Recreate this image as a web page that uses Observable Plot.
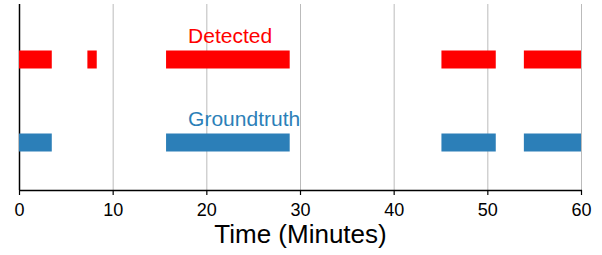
<!DOCTYPE html>
<html>
<head>
<meta charset="utf-8">
<script src="https://cdn.jsdelivr.net/npm/d3@7"></script>
<script src="https://cdn.jsdelivr.net/npm/@observablehq/plot@0.6"></script>
<style>
  html, body { margin: 0; padding: 0; background: #fff; }
</style>
</head>
<body>
<div id="chart"></div>
<script>
const rows = ["Detected", "Groundtruth"];
const rowColors = ["#ff0000", "#2c7fb8"];
const detectedStart = [0, 7.3, 15.7, 45.1, 53.9];
const detectedEnd   = [3.5, 8.3, 28.9, 50.9, 60];
const groundStart   = [0, 15.7, 45.1, 53.9];
const groundEnd     = [3.5, 28.9, 50.9, 60];
const xTicks = [0, 10, 20, 30, 40, 50, 60];
const gridTicks = [10, 20, 30, 40, 50, 60];
const labelX = 18;
const xTitle = "Time (Minutes)";

const segments = [
  ...detectedStart.map((s, i) => ({row: rows[0], start: s, end: detectedEnd[i]})),
  ...groundStart.map((s, i) => ({row: rows[1], start: s, end: groundEnd[i]}))
];
const labels = rows.map(r => ({row: r, x: labelX}));

const axisLine = (index, scales, values, dims) => {
  const y = dims.height - dims.marginBottom + 0.5;
  const line = document.createElementNS("http://www.w3.org/2000/svg", "line");
  line.setAttribute("x1", scales.x(0));
  line.setAttribute("x2", scales.x(60) + 1);
  line.setAttribute("y1", y);
  line.setAttribute("y2", y);
  line.setAttribute("stroke", "#000");
  line.setAttribute("stroke-width", 1.5);
  return line;
};

const chart = Plot.plot({
  width: 602,
  height: 255,
  marginLeft: 19,
  marginRight: 21,
  marginTop: 4,
  marginBottom: 65,
  style: {fontFamily: "'Liberation Sans', Arial, Helvetica, sans-serif", background: "#fff"},
  x: {domain: [0, 60]},
  y: {type: "point", domain: rows, range: [59, 142], padding: 0, axis: null},
  color: {domain: rows, range: rowColors},
  marks: [
    Plot.ruleX(gridTicks, {stroke: "#bbb", strokeWidth: 1}),
    Plot.ruleX([0], {stroke: "#000", strokeWidth: 1.5}),
    axisLine,
    Plot.axisX({ticks: xTicks, tickSize: 5, tickPadding: 8, fontSize: 18, tickFormat: d => d, label: null, stroke: "#000", color: "#000", strokeWidth: 1.2}),
    Plot.ruleY(segments, {x1: "start", x2: "end", y: "row", stroke: "row", strokeWidth: 18}),
    Plot.text(labels, {x: "x", y: "row", text: "row", fill: "row", textAnchor: "start", dy: -23, fontSize: 21}),
    Plot.text([xTitle], {frameAnchor: "bottom", text: d => d, lineAnchor: "top", dy: 34, fontSize: 26, fill: "#000"})
  ]
});
document.getElementById("chart").appendChild(chart);
</script>
</body>
</html>
